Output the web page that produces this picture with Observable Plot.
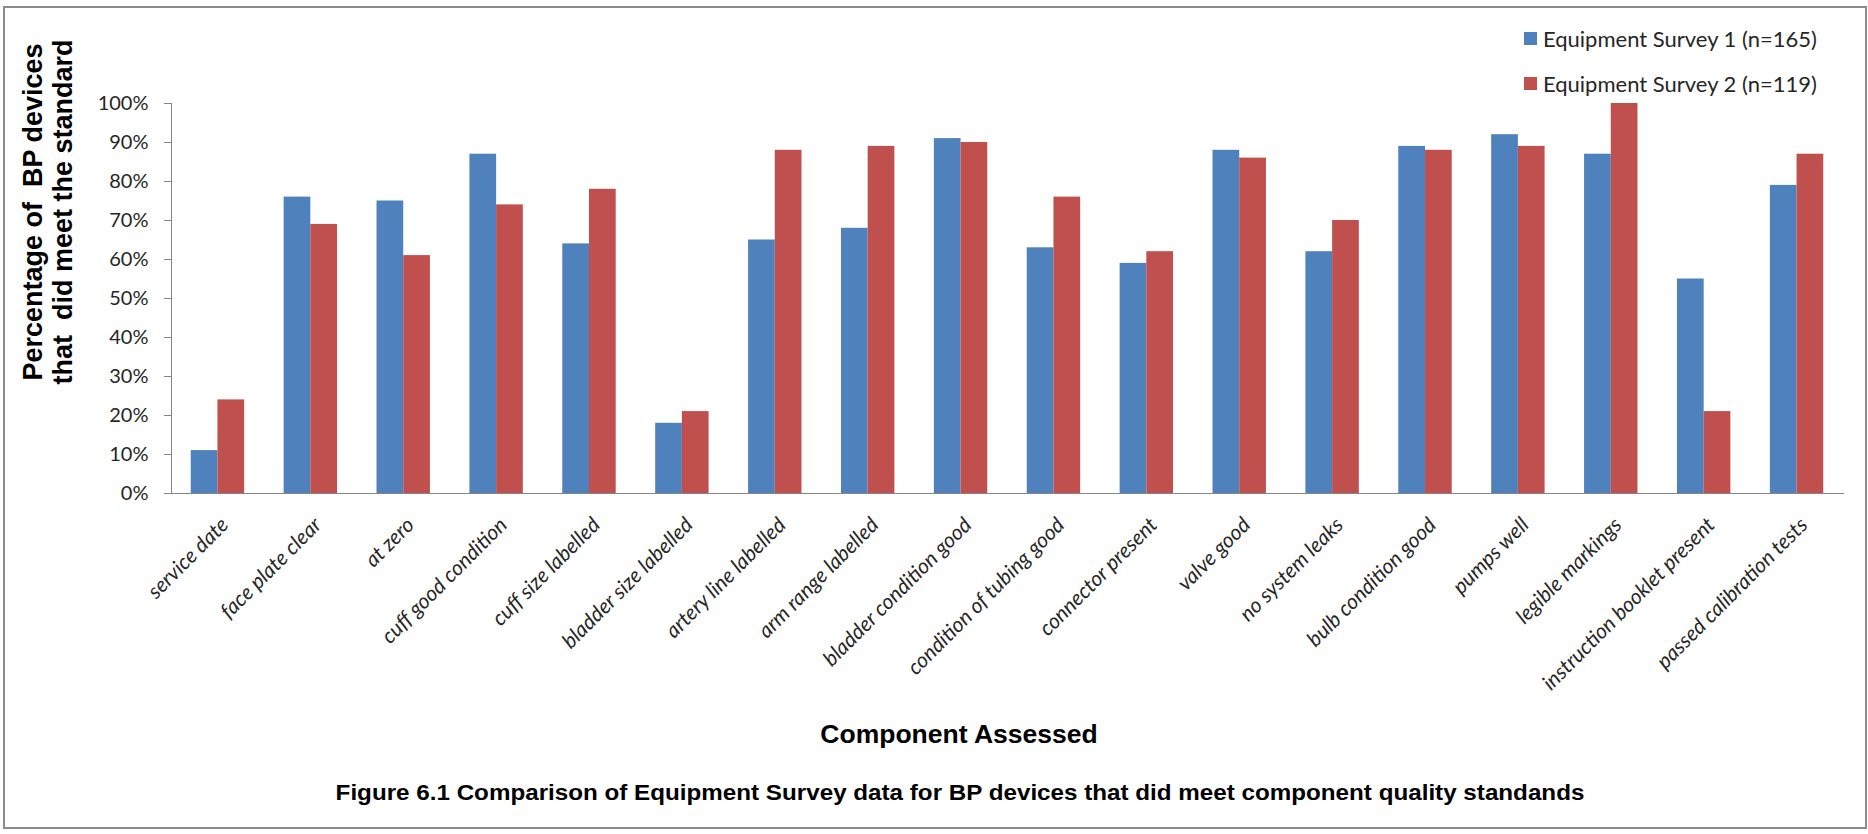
<!DOCTYPE html>
<html>
<head>
<meta charset="utf-8">
<script src="https://cdn.jsdelivr.net/npm/d3@7"></script>
<script src="https://cdn.jsdelivr.net/npm/@observablehq/plot@0.6"></script>
<style>
  html, body { margin: 0; padding: 0; background: #fff; }
  #wrap { position: relative; width: 1868px; height: 834px; overflow: hidden; }
  #border { position: absolute; left: 3px; top: 6px; width: 1864px; height: 823px; border: 2px solid #8c8c8c; box-sizing: border-box; }
  #chart { position: absolute; left: 0; top: 0; }
  .ylab { position: absolute; left: 48px; top: 212px; width: 420px; transform: translate(-50%, -50%) rotate(-90deg);
          font: bold 27px "Liberation Sans", Arial, sans-serif; line-height: 30px; text-align: center; white-space: pre; color: #000; }
  .xtitle { position: absolute; left: 959px; top: 744px; transform: translate(-50%, -80%);
          font: bold 26.5px "Liberation Sans", Arial, sans-serif; white-space: nowrap; color: #000; }
  .caption { position: absolute; left: 960px; top: 801px; transform: translate(-50%, -80%) scaleX(1.1);
          font: bold 22px "Liberation Sans", Arial, sans-serif; white-space: nowrap; color: #000; }
  .legend { position: absolute; left: 1524px; top: 24px; font: 22px Lato, sans-serif; color: #262626; }
  .legend .row { display: flex; align-items: center; height: 28px; margin-bottom: 17px; }
  .legend .sw { width: 13px; height: 13px; margin-right: 6px; }
</style>
</head>
<body>
<div id="wrap">
  <div id="border"></div>
  <div id="chart"></div>
</div>
<script>
const categories = [
  "service date", "face plate clear", "at zero", "cuff good condition", "cuff size labelled",
  "bladder size labelled", "artery line labelled", "arm range labelled", "bladder condition good",
  "condition of tubing good", "connector present", "valve good", "no system leaks",
  "bulb condition good", "pumps well", "legible markings", "instruction booklet present",
  "passed calibration tests"
];
const survey1 = [11, 76, 75, 87, 64, 18, 65, 68, 91, 63, 59, 88, 62, 89, 92, 87, 55, 79];
const survey2 = [24, 69, 61, 74, 78, 21, 88, 89, 90, 76, 62, 86, 70, 88, 89, 100, 21, 87];
const seriesNames = ["Equipment Survey 1 (n=165)", "Equipment Survey 2 (n=119)"];
const seriesColors = ["#4F81BD", "#C0504D"];
const yTicks = [0, 10, 20, 30, 40, 50, 60, 70, 80, 90, 100];
const yTitle = ["Percentage of  BP devices", "that  did meet the standard"];
const xTitle = "Component Assessed";
const captionText = "Figure 6.1 Comparison of Equipment Survey data for BP devices that did meet component quality standands";

const width = 1868, height = 834;
const mL = 171, mR = 25, mT = 103, mB = 341;
const pad = 0.425;
const band = (width - mL - mR) / categories.length * (1 - pad);
const half = band / 2;

const rows1 = categories.map((c, i) => ({category: c, series: seriesNames[0], value: survey1[i]}));
const rows2 = categories.map((c, i) => ({category: c, series: seriesNames[1], value: survey2[i]}));

const plot = Plot.plot({
  width, height,
  marginLeft: mL, marginRight: mR, marginTop: mT, marginBottom: mB,
  style: {background: "transparent", color: "#262626", overflow: "visible"},
  x: {domain: categories, paddingInner: pad, paddingOuter: pad / 2, round: false, label: null, axis: null},
  y: {domain: [0, 100], label: null, axis: null},
  color: {domain: seriesNames, range: seriesColors},
  marks: [
    Plot.barY(rows1, {x: "category", y: "value", fill: "series", insetLeft: 0, insetRight: half}),
    Plot.barY(rows2, {x: "category", y: "value", fill: "series", insetLeft: half, insetRight: 0}),
    Plot.frame({anchor: "left", stroke: "#868686"}),
    Plot.frame({anchor: "bottom", stroke: "#868686"}),
    Plot.axisY({ticks: yTicks, tickFormat: d => d + "%", tickSize: 7, tickPadding: 16,
      fontSize: 20, fontFamily: "Lato", stroke: "#868686", fill: "#262626", label: null}),
    Plot.axisX({tickRotate: -45, tickSize: 0, tickPadding: 28, dx: 7, fontSize: 21, fontFamily: "Lato",
      fontStyle: "italic", fill: "#262626", label: null})
  ]
});
document.getElementById("chart").appendChild(plot);

const wrap = document.getElementById("wrap");
const yl = document.createElement("div");
yl.className = "ylab";
yl.textContent = yTitle.join("\n");
wrap.appendChild(yl);

const xt = document.createElement("div");
xt.className = "xtitle";
xt.textContent = xTitle;
wrap.appendChild(xt);

const cap = document.createElement("div");
cap.className = "caption";
cap.textContent = captionText;
wrap.appendChild(cap);

const lg = document.createElement("div");
lg.className = "legend";
seriesNames.forEach((s, i) => {
  const r = document.createElement("div");
  r.className = "row";
  const sw = document.createElement("div");
  sw.className = "sw";
  sw.style.background = seriesColors[i];
  const t = document.createElement("span");
  t.textContent = s;
  r.appendChild(sw); r.appendChild(t);
  lg.appendChild(r);
});
wrap.appendChild(lg);
</script>
</body>
</html>
